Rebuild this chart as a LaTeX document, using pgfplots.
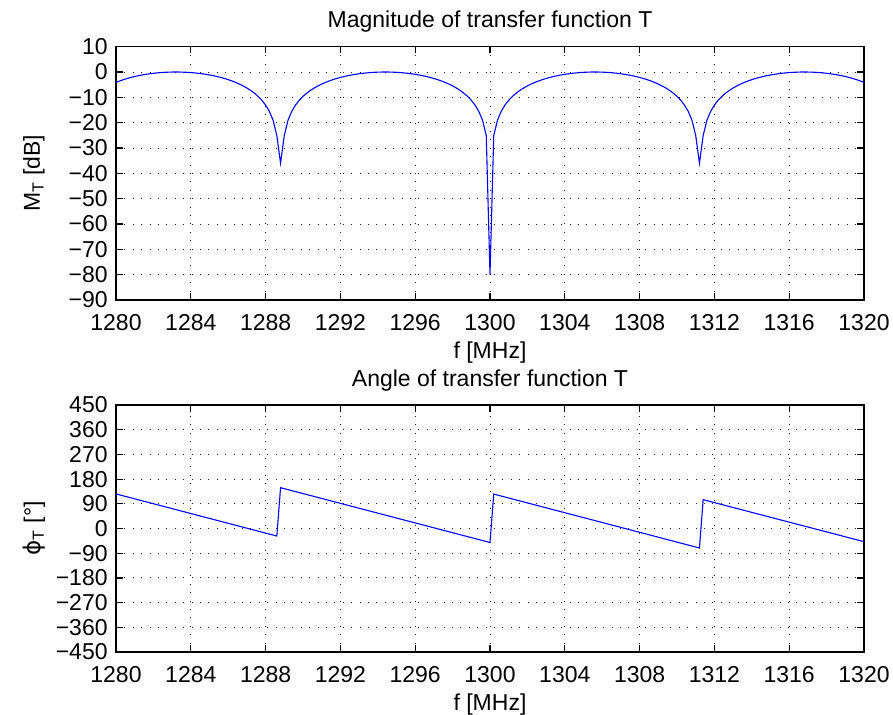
\documentclass[border=0pt]{standalone}
\usepackage{fontspec}
\setmainfont{Liberation Sans}
\newfontfamily\dejavu{DejaVu Sans}
\usepackage{pgfplots}
\usepackage{pgfplotstable}
\pgfplotsset{compat=1.18}

\pgfplotstableread{
f M
1280.0 -4.10
1280.2 -3.53
1280.4 -3.01
1280.6 -2.55
1280.8 -2.14
1281.0 -1.77
1281.2 -1.45
1281.4 -1.16
1281.6 -0.91
1281.8 -0.69
1282.0 -0.50
1282.2 -0.35
1282.4 -0.22
1282.6 -0.12
1282.8 -0.05
1283.0 -0.01
1283.2 0
1283.4 -0.01
1283.6 -0.05
1283.8 -0.12
1284.0 -0.22
1284.2 -0.35
1284.4 -0.50
1284.6 -0.69
1284.8 -0.91
1285.0 -1.16
1285.2 -1.45
1285.4 -1.77
1285.6 -2.14
1285.8 -2.55
1286.0 -3.01
1286.2 -3.53
1286.4 -4.10
1286.6 -4.75
1286.8 -5.48
1287.0 -6.31
1287.2 -7.25
1287.4 -8.34
1287.6 -9.62
1287.8 -11.16
1288.0 -13.05
1288.2 -15.52
1288.4 -19.02
1288.6 -25.03
1288.8 -36
1289.0 -25.03
1289.2 -19.02
1289.4 -15.52
1289.6 -13.05
1289.8 -11.16
1290.0 -9.62
1290.2 -8.34
1290.4 -7.25
1290.6 -6.31
1290.8 -5.48
1291.0 -4.75
1291.2 -4.10
1291.4 -3.53
1291.6 -3.01
1291.8 -2.55
1292.0 -2.14
1292.2 -1.77
1292.4 -1.45
1292.6 -1.16
1292.8 -0.91
1293.0 -0.69
1293.2 -0.50
1293.4 -0.35
1293.6 -0.22
1293.8 -0.12
1294.0 -0.05
1294.2 -0.01
1294.4 0
1294.6 -0.01
1294.8 -0.05
1295.0 -0.12
1295.2 -0.22
1295.4 -0.35
1295.6 -0.50
1295.8 -0.69
1296.0 -0.91
1296.2 -1.16
1296.4 -1.45
1296.6 -1.77
1296.8 -2.14
1297.0 -2.55
1297.2 -3.01
1297.4 -3.53
1297.6 -4.10
1297.8 -4.75
1298.0 -5.48
1298.2 -6.31
1298.4 -7.25
1298.6 -8.34
1298.8 -9.62
1299.0 -11.16
1299.2 -13.05
1299.4 -15.52
1299.6 -19.02
1299.8 -25.03
1300.0 -80
1300.2 -25.03
1300.4 -19.02
1300.6 -15.52
1300.8 -13.05
1301.0 -11.16
1301.2 -9.62
1301.4 -8.34
1301.6 -7.25
1301.8 -6.31
1302.0 -5.48
1302.2 -4.75
1302.4 -4.10
1302.6 -3.53
1302.8 -3.01
1303.0 -2.55
1303.2 -2.14
1303.4 -1.77
1303.6 -1.45
1303.8 -1.16
1304.0 -0.91
1304.2 -0.69
1304.4 -0.50
1304.6 -0.35
1304.8 -0.22
1305.0 -0.12
1305.2 -0.05
1305.4 -0.01
1305.6 0
1305.8 -0.01
1306.0 -0.05
1306.2 -0.12
1306.4 -0.22
1306.6 -0.35
1306.8 -0.50
1307.0 -0.69
1307.2 -0.91
1307.4 -1.16
1307.6 -1.45
1307.8 -1.77
1308.0 -2.14
1308.2 -2.55
1308.4 -3.01
1308.6 -3.53
1308.8 -4.10
1309.0 -4.75
1309.2 -5.48
1309.4 -6.31
1309.6 -7.25
1309.8 -8.34
1310.0 -9.62
1310.2 -11.16
1310.4 -13.05
1310.6 -15.52
1310.8 -19.02
1311.0 -25.03
1311.2 -36
1311.4 -25.03
1311.6 -19.02
1311.8 -15.52
1312.0 -13.05
1312.2 -11.16
1312.4 -9.62
1312.6 -8.34
1312.8 -7.25
1313.0 -6.31
1313.2 -5.48
1313.4 -4.75
1313.6 -4.10
1313.8 -3.53
1314.0 -3.01
1314.2 -2.55
1314.4 -2.14
1314.6 -1.77
1314.8 -1.45
1315.0 -1.16
1315.2 -0.91
1315.4 -0.69
1315.6 -0.50
1315.8 -0.35
1316.0 -0.22
1316.2 -0.12
1316.4 -0.05
1316.6 -0.01
1316.8 0
1317.0 -0.01
1317.2 -0.05
1317.4 -0.12
1317.6 -0.22
1317.8 -0.35
1318.0 -0.50
1318.2 -0.69
1318.4 -0.91
1318.6 -1.16
1318.8 -1.45
1319.0 -1.77
1319.2 -2.14
1319.4 -2.55
1319.6 -3.01
1319.8 -3.53
1320.0 -4.10
}\magtable

\pgfplotstableread{
f P
1280.0 126
1288.6 -27.5
1288.8 148.7
1300.0 -51
1300.2 125.4
1311.2 -71
1311.4 105
1320.0 -48
}\phasetable

\pgfplotsset{
  mlab/.style={
    scale only axis,
    width=374pt,
    xmin=1280, xmax=1320,
    xtick={1280,1284,...,1320},
    xticklabels={1280,1284,1288,1292,1296,1300,1304,1308,1312,1316,1320},
    tick pos=both,
    tick align=inside,
    major tick length=3.3pt,
    grid=major,
    grid style={black!85, line width=0.5pt, dash pattern=on 0.5pt off 3.7pt},
    axis line style={black, line width=0.6pt},
    every tick/.style={black, line width=0.6pt},
    font=\fontsize{11.5}{13.8}\selectfont,
    xticklabel style={anchor=base, inner sep=0pt, yshift=-15.1pt, font=\fontsize{11.5}{13.8}\selectfont},
    yticklabel style={anchor=east, inner sep=0pt, xshift=-4pt, font=\fontsize{11.5}{13.8}\selectfont},
    xlabel style={at={(axis description cs:0.5,0)}, anchor=base, yshift=-29.1pt, inner sep=0pt},
    ylabel style={at={(axis description cs:-0.1096,0.5)}, anchor=center, inner sep=0pt},
    title style={at={(axis description cs:0.5,1)}, anchor=base, yshift=3.4pt, inner sep=0pt},
  }
}

\begin{document}
\begin{tikzpicture}[font=\fontsize{11.5}{13.8}\selectfont]
\begin{axis}[mlab,
  at={(58pt,-23.35pt)}, anchor=north west,
  height=126.65pt,
  ymin=-90, ymax=10,
  ytick={-90,-80,...,10},
  yticklabels={−90,−80,−70,−60,−50,−40,−30,−20,−10,0,10},
  title={Magnitude of transfer function T},
  xlabel={f [MHz]},
  ylabel={M\textsubscript{T} [dB]},
]
\addplot[blue, line width=0.55pt] table[x=f, y=M] {\magtable};
\end{axis}
\begin{axis}[mlab,
  at={(58pt,-202.5pt)}, anchor=north west,
  height=123.5pt,
  ymin=-450, ymax=450,
  ytick={-450,-360,...,450},
  yticklabels={−450,−360,−270,−180,−90,0,90,180,270,360,450},
  title={Angle of transfer function T},
  xlabel={f [MHz]},
  ylabel={{\dejavu ϕ}\textsubscript{T} [°]},
]
\addplot[blue, line width=0.55pt] table[x=f, y=P] {\phasetable};
\end{axis}
\pgfresetboundingbox
\path (0pt,0pt) rectangle (446.5pt,-357.5pt);
\end{tikzpicture}
\end{document}
